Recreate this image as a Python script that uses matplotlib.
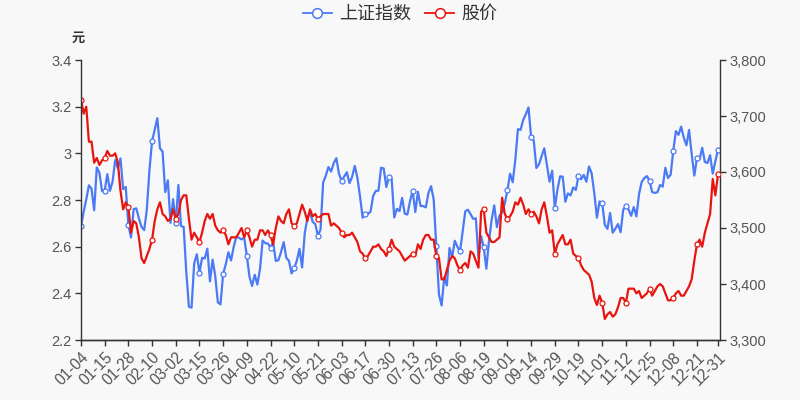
import matplotlib
matplotlib.use("Agg")
import matplotlib.pyplot as plt
import pandas as pd
from matplotlib.lines import Line2D
from matplotlib.ticker import FuncFormatter

BLUE = "#4a7af5"
RED = "#e8150f"
BG = "#f8f8f8"
AXIS = "#333333"
LABEL = "#555555"
CJK = ["Noto Sans CJK SC", "DejaVu Sans"]

# 2021 trading days (weekdays minus exchange holidays)
HOLIDAYS = [
    "2021-02-11", "2021-02-12", "2021-02-15", "2021-02-16", "2021-02-17",
    "2021-04-05", "2021-05-03", "2021-05-04", "2021-05-05", "2021-06-14",
    "2021-09-20", "2021-09-21", "2021-10-01", "2021-10-04", "2021-10-05",
    "2021-10-06", "2021-10-07",
]
days = pd.bdate_range("2021-01-04", "2021-12-31")
days = days[~days.isin(pd.to_datetime(HOLIDAYS))]
DATES = [d.strftime("%m-%d") for d in days]

# 上证指数 (right axis)
INDEX = [
    3502.96, 3528.68, 3550.88, 3576.20, 3570.11, 3531.50, 3608.34, 3598.65, 3565.90, 3566.38,
    3596.22, 3566.38, 3583.09, 3621.26, 3606.75, 3624.24, 3569.43, 3573.34, 3505.18, 3483.07,
    3533.68, 3535.09, 3517.31, 3501.86, 3496.33, 3532.44, 3603.49, 3655.09, 3675.36, 3696.17,
    3642.44, 3636.36, 3564.08, 3585.05, 3509.08,
    3551.40, 3508.59, 3576.90, 3503.49, 3501.99, 3421.41, 3359.29, 3357.74, 3436.83, 3453.08,
    3419.95, 3446.73, 3445.55, 3463.07, 3404.66, 3443.44, 3414.41, 3367.06, 3363.59, 3418.33,
    3435.30, 3456.68, 3441.91,
    3466.33, 3484.39, 3482.48, 3479.63, 3482.55, 3450.68, 3412.95, 3396.47, 3416.52, 3398.99,
    3426.62, 3477.55, 3472.94, 3472.30, 3465.11, 3474.17, 3441.17, 3442.61, 3457.07, 3474.90,
    3446.86,
    3441.28, 3418.87, 3427.99, 3441.85, 3462.75, 3429.54, 3490.38, 3517.62, 3529.01, 3510.96,
    3506.94, 3486.56, 3497.28, 3581.34, 3593.36, 3608.85, 3600.78, 3615.48,
    3624.71, 3597.14, 3584.22, 3591.84, 3599.54, 3580.11, 3591.40, 3610.86, 3589.75, 3556.56,
    3518.33, 3525.10, 3525.10, 3529.18, 3557.41, 3566.22, 3566.65, 3607.56, 3606.37, 3573.18,
    3591.20,
    3588.78, 3518.76, 3534.32, 3530.26, 3553.72, 3525.50, 3524.09, 3547.84, 3566.59, 3528.50,
    3564.59, 3539.30, 3539.12, 3536.79, 3562.75, 3574.73, 3550.40, 3467.44, 3381.18, 3361.59,
    3411.72, 3397.36,
    3464.29, 3447.99, 3477.22, 3466.56, 3458.23, 3494.63, 3529.93, 3532.62, 3524.74, 3516.30,
    3517.34, 3446.98, 3485.29, 3465.55, 3427.33, 3477.13, 3514.47, 3540.38, 3501.66, 3522.16,
    3528.15, 3543.94,
    3567.10, 3597.04, 3581.73, 3621.86, 3676.59, 3675.19, 3693.13, 3703.11, 3715.37, 3662.60,
    3656.22, 3607.09, 3613.97, 3628.49, 3642.22, 3613.07, 3582.83, 3602.22, 3536.29, 3568.17,
    3592.17, 3591.71, 3546.94, 3561.76, 3558.28, 3572.37, 3568.14, 3593.15, 3587.00, 3594.78,
    3582.60, 3609.86, 3597.64, 3562.31, 3518.42, 3547.34,
    3544.48, 3505.63, 3498.54, 3526.87, 3491.57, 3498.63, 3507.00, 3492.46, 3532.79, 3539.10,
    3533.30, 3521.79, 3537.37, 3520.71, 3560.37, 3582.08, 3589.09, 3592.70, 3584.18, 3564.09,
    3562.70, 3563.89,
    3576.89, 3573.84, 3607.43, 3589.31, 3595.09, 3637.57, 3673.04, 3666.35, 3681.08, 3661.53,
    3647.63, 3675.02, 3632.36, 3593.60, 3625.13, 3622.62, 3643.34, 3618.05, 3615.97, 3630.11,
    3597.00, 3619.19, 3639.78,
]

# 股价 (left axis, 元)
PRICE = [
    3.23, 3.17, 3.20, 3.05, 3.05, 2.96, 2.98, 2.95, 2.97, 2.98,
    3.01, 2.99, 2.99, 3.00, 2.96, 2.84, 2.76, 2.79, 2.77, 2.66,
    2.71, 2.70, 2.64, 2.55, 2.53, 2.56, 2.59, 2.63, 2.71, 2.76,
    2.79, 2.74, 2.73, 2.71, 2.72, 2.76, 2.72, 2.74, 2.80, 2.82,
    2.82, 2.72, 2.63, 2.66, 2.64, 2.62, 2.66, 2.71, 2.74, 2.72,
    2.74, 2.69, 2.67, 2.66, 2.67, 2.65, 2.61, 2.64, 2.64, 2.64,
    2.66, 2.68, 2.64, 2.67, 2.64, 2.60, 2.63, 2.63, 2.67, 2.67,
    2.65, 2.67, 2.65, 2.61, 2.68, 2.73, 2.71, 2.70, 2.74, 2.76,
    2.70, 2.69, 2.70, 2.74, 2.78, 2.75, 2.71, 2.76, 2.73, 2.74,
    2.72, 2.73, 2.74, 2.74, 2.74, 2.69, 2.70, 2.69, 2.68, 2.66,
    2.64, 2.65, 2.65, 2.66, 2.64, 2.62, 2.58, 2.57, 2.55, 2.56,
    2.58, 2.60, 2.60, 2.61, 2.59, 2.58, 2.56, 2.59, 2.63, 2.60,
    2.59, 2.58, 2.56, 2.54, 2.55, 2.56, 2.57, 2.56, 2.61, 2.59,
    2.63, 2.65, 2.65, 2.63, 2.63, 2.56, 2.55, 2.46, 2.46, 2.50,
    2.54, 2.56, 2.55, 2.52, 2.50, 2.52, 2.53, 2.51, 2.58, 2.57,
    2.54, 2.51, 2.75, 2.76, 2.66, 2.64, 2.62, 2.62, 2.63, 2.64,
    2.81, 2.74, 2.72, 2.73, 2.75, 2.79, 2.78, 2.81, 2.78, 2.74,
    2.76, 2.74, 2.75, 2.73, 2.70, 2.76, 2.79, 2.73, 2.66, 2.67,
    2.57, 2.61, 2.63, 2.65, 2.61, 2.61, 2.63, 2.57, 2.56, 2.55,
    2.52, 2.50, 2.49, 2.48, 2.45, 2.38, 2.35, 2.39, 2.36, 2.29,
    2.31, 2.32, 2.30, 2.31, 2.34, 2.38, 2.38, 2.36, 2.42, 2.42,
    2.42, 2.40, 2.41, 2.38, 2.39, 2.40, 2.42, 2.39, 2.41, 2.43,
    2.44, 2.43, 2.40, 2.37, 2.37, 2.38, 2.40, 2.41, 2.39, 2.39,
    2.41, 2.43, 2.46, 2.54, 2.61, 2.63, 2.60, 2.66, 2.70, 2.74,
    2.89, 2.82, 2.91,
]

LEFT_TICKS = [2.2, 2.4, 2.6, 2.8, 3.0, 3.2, 3.4]
RIGHT_TICKS = [3300, 3400, 3500, 3600, 3700, 3800]


def main():
    n = len(DATES)
    x = list(range(n))
    tick_idx = list(range(0, n, 9))
    if tick_idx[-1] != n - 1:
        tick_idx.append(n - 1)

    fig = plt.figure(figsize=(8, 4), dpi=100)
    fig.patch.set_facecolor(BG)
    ax = fig.add_axes([81 / 800, 0.15, 639 / 800, 0.70])
    ax2 = ax.twinx()

    line_kw = dict(linewidth=1.6, marker="o", markersize=3.6, markerfacecolor="white",
                   markeredgewidth=0.9, markevery=tick_idx)
    ax2.plot(x, INDEX, color=BLUE, markeredgecolor=BLUE, **line_kw)
    ax.plot(x, PRICE, color=RED, markeredgecolor=RED, **line_kw)

    # red series above blue, like the original draw order
    ax.set_zorder(ax2.get_zorder() + 1)
    ax.patch.set_visible(False)
    ax2.set_facecolor(BG)

    ax.set_xlim(0, n - 1 + 0.76)
    ax.set_ylim(2.2, 3.4)
    ax2.set_ylim(3300, 3800)
    ax.set_yticks(LEFT_TICKS)
    ax.yaxis.set_major_formatter(FuncFormatter(lambda v, p: f"{v:g}"))
    ax2.set_yticks(RIGHT_TICKS)
    ax2.yaxis.set_major_formatter(FuncFormatter(lambda v, p: f"{int(v):,}"))

    ax.set_xticks(tick_idx)
    ax.set_xticklabels([DATES[i] for i in tick_idx], rotation=45, ha="right",
                       rotation_mode="anchor")

    for a in (ax, ax2):
        a.spines["top"].set_visible(False)
        for s in ("left", "right", "bottom"):
            a.spines[s].set_color(AXIS)
            a.spines[s].set_linewidth(1.0)
        a.tick_params(colors=AXIS, labelcolor=LABEL, length=4, width=1.0,
                      labelsize=10.5, pad=3)
        for lab in a.get_xticklabels() + a.get_yticklabels():
            lab.set_family(["Liberation Sans", "DejaVu Sans"])
    ax2.spines["left"].set_visible(False)
    ax.spines["right"].set_visible(False)
    ax.tick_params(axis="x", labelsize=11.2, pad=3)

    fig.text(78 / 800, 1 - 38 / 400, "元", family=CJK, fontsize=9.5,
             color=AXIS, ha="center", va="center", fontweight="bold")

    handles = [
        Line2D([], [], color=BLUE, linewidth=1.3, marker="o", markersize=7,
               markerfacecolor="white", markeredgewidth=1.1),
        Line2D([], [], color=RED, linewidth=1.3, marker="o", markersize=7,
               markerfacecolor="white", markeredgewidth=1.1),
    ]
    fig.legend(handles, ["上证指数", "股价"], loc="center", bbox_to_anchor=(0.5, 1 - 14 / 400),
               ncol=2, frameon=False, prop={"family": CJK, "size": 13},
               handlelength=1.6, handletextpad=0.4, columnspacing=0.8, labelcolor="#333333")

    fig.savefig("out.png", dpi=100, facecolor=BG)


if __name__ == "__main__":
    main()
